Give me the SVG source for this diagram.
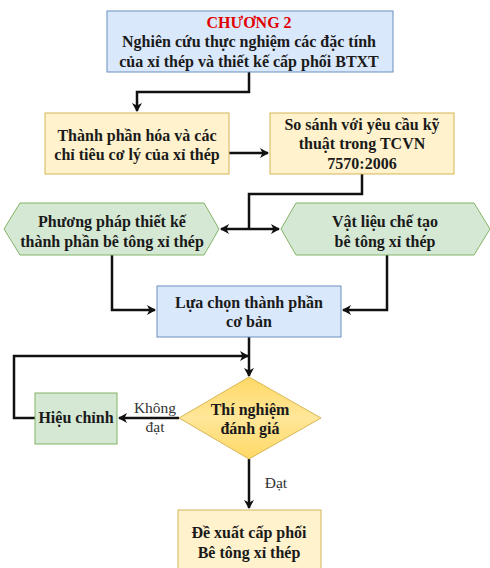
<svg xmlns="http://www.w3.org/2000/svg" width="490" height="568" viewBox="0 0 490 568">
<style>
text{font-family:"Liberation Serif","Times New Roman",serif;font-size:16px;font-weight:bold;fill:#1a1a1a;text-anchor:middle}
.blue{fill:#dae8fc;stroke:#6c8ebf;stroke-width:1}
.yellow{fill:#fff2cc;stroke:#d6b656;stroke-width:1}
.green{fill:#d5e8d4;stroke:#82b366;stroke-width:1}
.red{fill:#e00000}
.lbl{font-weight:normal;font-size:15.5px;fill:#333}
.conn{fill:none;stroke:#111;stroke-width:2.5}
</style>
<defs>
<marker id="ah" markerWidth="10" markerHeight="10" refX="8" refY="5" orient="auto" markerUnits="userSpaceOnUse">
<path d="M0,0 L9,5 L0,10 L2.5,5 Z" fill="#111"/>
</marker>
<linearGradient id="dg" x1="0" y1="0" x2="0" y2="1">
<stop offset="0" stop-color="#ffd966"/>
<stop offset="0.5" stop-color="#ffe699"/>
<stop offset="1" stop-color="#ffd966"/>
</linearGradient>
</defs>
<rect width="490" height="568" fill="#fff"/>
<g id="connectors">
<path class="conn" d="M249,72 V92 H137 V111" marker-end="url(#ah)"/>
<path class="conn" d="M229,153 H268" marker-end="url(#ah)"/>
<path class="conn" d="M362,174 V194 H249 V229"/>
<path class="conn" d="M249,229 H221" marker-end="url(#ah)"/>
<path class="conn" d="M249,229 H279" marker-end="url(#ah)"/>
<path class="conn" d="M112,255 V310 H155" marker-end="url(#ah)"/>
<path class="conn" d="M387,255 V310 H343" marker-end="url(#ah)"/>
<path class="conn" d="M249,337 V376" marker-end="url(#ah)"/>
<path class="conn" d="M35,418 H14 V356 H248" marker-end="url(#ah)"/>
<path class="conn" d="M179,418 H119" marker-end="url(#ah)"/>
<path class="conn" d="M249,459 V508" marker-end="url(#ah)"/>
<text class="lbl" x="155" y="413">Không</text>
<text class="lbl" x="155" y="432">đạt</text>
<text class="lbl" x="276" y="488">Đạt</text>
</g>
<g id="n1">
<rect class="blue" x="107" y="11" width="286" height="61"/>
<text class="red" x="249" y="28">CHƯƠNG 2</text>
<text x="249" y="47">Nghiên cứu thực nghiệm các đặc tính</text>
<text x="249" y="67">của xỉ thép và thiết kế cấp phối BTXT</text>
</g>
<g id="n2">
<rect class="yellow" x="45" y="113" width="184" height="61"/>
<text x="137" y="141">Thành phần hóa và các</text>
<text x="137" y="160">chỉ tiêu cơ lý của xỉ thép</text>
</g>
<g id="n3">
<rect class="yellow" x="270" y="113" width="184" height="61"/>
<text x="362" y="130">So sánh với yêu cầu kỹ</text>
<text x="362" y="149">thuật trong TCVN</text>
<text x="362" y="169">7570:2006</text>
</g>
<g id="n4">
<polygon class="green" points="4,229 20,203 204,203 219,229 204,255 20,255"/>
<text x="112" y="227">Phương pháp thiết kế</text>
<text x="112" y="247">thành phần bê tông xỉ thép</text>
</g>
<g id="n5">
<polygon class="green" points="281,229 296,203 474,203 490,229 474,255 296,255"/>
<text x="385" y="227">Vật liệu chế tạo</text>
<text x="385" y="247">bê tông xỉ thép</text>
</g>
<g id="n6">
<rect class="blue" x="157" y="286" width="184" height="51"/>
<text x="249" y="308">Lựa chọn thành phần</text>
<text x="249" y="327">cơ bản</text>
</g>
<g id="n7">
<polygon points="249,377 321,418 249,459 179,418" fill="url(#dg)" stroke="#d6b656" stroke-width="1"/>
<text x="250" y="415">Thí nghiệm</text>
<text x="250" y="434">đánh giá</text>
</g>
<g id="n8">
<rect class="green" x="35" y="393" width="82" height="51"/>
<text x="76" y="423">Hiệu chỉnh</text>
</g>
<g id="n9">
<rect class="yellow" x="178" y="510" width="143" height="62"/>
<text x="249" y="538">Đề xuất cấp phối</text>
<text x="249" y="558">Bê tông xỉ thép</text>
</g>
</svg>
